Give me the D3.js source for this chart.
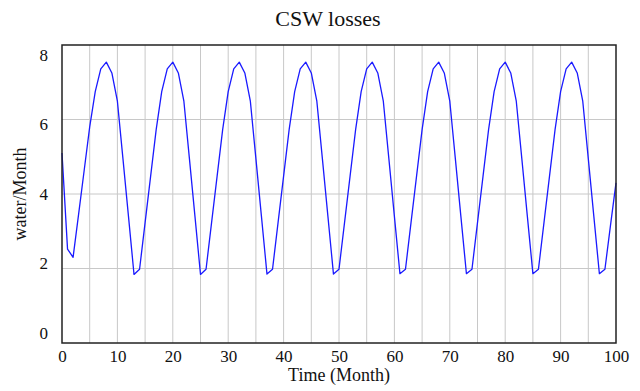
<!DOCTYPE html>
<html>
<head>
<meta charset="utf-8">
<script src="https://cdn.jsdelivr.net/npm/d3@7"></script>
<style>
  body { margin: 0; background: #fff; }
  text { font-family: 'Liberation Serif', 'Times New Roman', serif; fill: #111; }
</style>
</head>
<body>
<div id="chart"></div>
<script>
const title = 'CSW losses'
const xLabel = 'Time (Month)'
const yLabel = 'water/Month'
const xTicks = [0, 10, 20, 30, 40, 50, 60, 70, 80, 90, 100]
const yTicks = [0, 2, 4, 6, 8]

// one value per month, 0..100
const losses = [
  5.10, 2.52, 2.30, 3.46, 4.63, 5.80, 6.75, 7.36, 7.54, 7.25, 6.49, 4.95, 3.40,
  1.84, 1.98, 3.23, 4.48, 5.73, 6.75, 7.36, 7.54, 7.25, 6.49, 4.95, 3.40,
  1.84, 1.98, 3.23, 4.48, 5.73, 6.75, 7.36, 7.54, 7.25, 6.49, 4.95, 3.40,
  1.85, 1.98, 3.23, 4.48, 5.73, 6.75, 7.36, 7.54, 7.25, 6.49, 4.95, 3.40,
  1.85, 1.98, 3.23, 4.48, 5.73, 6.75, 7.36, 7.54, 7.25, 6.49, 4.95, 3.40,
  1.86, 1.98, 3.23, 4.48, 5.73, 6.75, 7.36, 7.54, 7.25, 6.49, 4.95, 3.40,
  1.86, 1.98, 3.23, 4.48, 5.73, 6.75, 7.36, 7.54, 7.25, 6.49, 4.95, 3.40,
  1.86, 1.98, 3.23, 4.48, 5.73, 6.75, 7.36, 7.54, 7.25, 6.49, 4.95, 3.40,
  1.86, 1.98, 3.15, 4.30
]

const W = 640
const H = 391
const plot = { left: 62, right: 616, top: 45, bottom: 343 }

const svg = d3.select('#chart').append('svg')
  .attr('width', W)
  .attr('height', H)

const x = d3.scaleLinear().domain([0, 100]).range([plot.left, plot.right])
const y = d3.scaleLinear().domain([0, 8]).range([plot.bottom, plot.top])
// vensim spreads the y labels a little tighter than the grid
const yLab = d3.scaleLinear().domain([0, 8]).range([plot.bottom - 10, plot.top + 10])

// grid
svg.append('g')
  .selectAll('line')
  .data(d3.range(5, 100, 5))
  .enter().append('line')
  .attr('x1', d => x(d)).attr('x2', d => x(d))
  .attr('y1', plot.top).attr('y2', plot.bottom)
  .attr('stroke', '#c8c8c8')
  .attr('stroke-width', 1)

svg.append('g')
  .selectAll('line')
  .data([2, 4, 6])
  .enter().append('line')
  .attr('x1', plot.left).attr('x2', plot.right)
  .attr('y1', d => y(d)).attr('y2', d => y(d))
  .attr('stroke', '#c8c8c8')
  .attr('stroke-width', 1)

// series
const line = d3.line()
  .x((d, i) => x(i))
  .y(d => y(d))

svg.append('path')
  .datum(losses)
  .attr('d', line)
  .attr('fill', 'none')
  .attr('stroke', '#1a1aff')
  .attr('stroke-width', 1.3)
  .attr('stroke-linejoin', 'round')

// frame
svg.append('rect')
  .attr('x', plot.left)
  .attr('y', plot.top)
  .attr('width', plot.right - plot.left)
  .attr('height', plot.bottom - plot.top)
  .attr('fill', 'none')
  .attr('stroke', '#222')
  .attr('stroke-width', 1.5)

// x axis labels
const xAxis = svg.append('g')
  .attr('transform', `translate(0,${plot.bottom})`)
  .call(d3.axisBottom(x).tickValues(xTicks).tickSize(0).tickPadding(0))
xAxis.select('.domain').remove()
xAxis.selectAll('text')
  .attr('y', 19)
  .attr('dy', 0)
  .attr('font-size', 17)
  .attr('font-family', 'Liberation Serif, serif')
  .attr('fill', '#111')

// y labels
svg.append('g')
  .selectAll('text')
  .data(yTicks)
  .enter().append('text')
  .attr('x', 48)
  .attr('y', d => yLab(d))
  .attr('dy', '0.35em')
  .attr('text-anchor', 'end')
  .attr('font-size', 17)
  .text(d => d)

svg.append('text')
  .attr('x', 328)
  .attr('y', 26)
  .attr('text-anchor', 'middle')
  .attr('font-size', 22)
  .text(title)

svg.append('text')
  .attr('x', 339)
  .attr('y', 381)
  .attr('text-anchor', 'middle')
  .attr('font-size', 18)
  .text(xLabel)

svg.append('text')
  .attr('transform', 'translate(26,194) rotate(-90)')
  .attr('text-anchor', 'middle')
  .attr('font-size', 18)
  .text(yLabel)
</script>
</body>
</html>
